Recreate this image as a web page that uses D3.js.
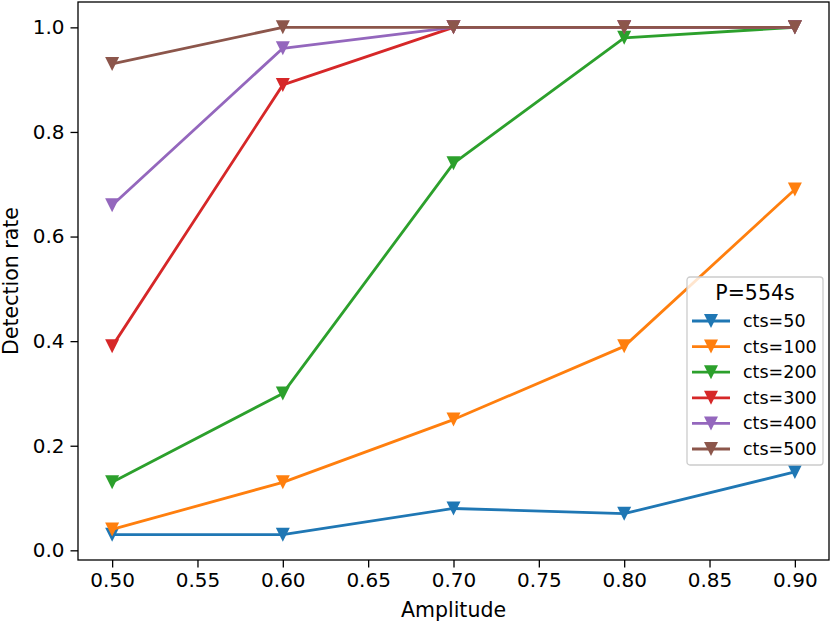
<!DOCTYPE html>
<head>
    <meta charset="utf-8">
    <title>Detection rate vs amplitude</title>
    <style>
        body { margin: 0; background: #fff; }
        text { font-family: "DejaVu Sans", sans-serif; fill: #000; }
    </style>
</head>
<body>

<svg width="831" height="626"></svg>

<script src="https://d3js.org/d3.v7.min.js"></script>

<script>

    // data
    var amplitudes = [0.50, 0.60, 0.70, 0.80, 0.90];
    var seriesNames = ["cts=50", "cts=100", "cts=200", "cts=300", "cts=400", "cts=500"];
    var cts50  = [0.03, 0.03, 0.08, 0.07, 0.15];
    var cts100 = [0.04, 0.13, 0.25, 0.39, 0.69];
    var cts200 = [0.13, 0.30, 0.74, 0.98, 1.00];
    var cts300 = [0.39, 0.89, 1.00, 1.00, 1.00];
    var cts400 = [0.66, 0.96, 1.00, 1.00, 1.00];
    var cts500 = [0.93, 1.00, 1.00, 1.00, 1.00];
    var xTicks = [0.50, 0.55, 0.60, 0.65, 0.70, 0.75, 0.80, 0.85, 0.90];
    var yTicks = [0.0, 0.2, 0.4, 0.6, 0.8, 1.0];
    var legendTitle = "P=554s";

    var allSeries = [cts50, cts100, cts200, cts300, cts400, cts500];
    var colors = ["#1f77b4", "#ff7f0e", "#2ca02c", "#d62728", "#9467bd", "#8c564b"];

    var svg = d3.select("svg"),
        margin = {top: 2, right: 2, bottom: 66, left: 78},
        width = +svg.attr("width") - margin.left - margin.right,
        height = +svg.attr("height") - margin.top - margin.bottom;

    var g = svg.append("g")
        .attr("transform", "translate(" + margin.left + "," + margin.top + ")");

    // matplotlib style 5% padding
    var x = d3.scaleLinear().domain([0.48, 0.92]).range([0, width]);
    var y = d3.scaleLinear().domain([-0.0185, 1.0485]).range([height, 0]);

    var xAxis = g.append("g")
        .attr("transform", "translate(0," + height + ")")
        .call(d3.axisBottom(x).tickValues(xTicks).tickFormat(d3.format(".2f"))
            .tickSize(7.5).tickPadding(5));

    var yAxis = g.append("g")
        .call(d3.axisLeft(y).tickValues(yTicks).tickFormat(d3.format(".1f"))
            .tickSize(7.5).tickPadding(6));

    [xAxis, yAxis].forEach(function(a) {
        a.select(".domain").remove();
        a.selectAll("line").attr("stroke", "#000").attr("stroke-width", 1.3);
        a.selectAll("text").attr("font-size", 20).attr("font-family", "DejaVu Sans").attr("fill", "#000");
    });

    var line = d3.line()
        .x(function(d, i) { return x(amplitudes[i]); })
        .y(function(d) { return y(d); });

    var triPath = "M0,7L-7,-7L7,-7Z";

    allSeries.forEach(function(s, k) {
        var sg = g.append("g");
        sg.append("path")
            .datum(s)
            .attr("fill", "none")
            .attr("stroke", colors[k])
            .attr("stroke-width", 2.8)
            .attr("stroke-linejoin", "round")
            .attr("d", line);
        sg.selectAll("path.m")
            .data(s)
            .enter().append("path")
                .attr("class", "m")
                .attr("d", triPath)
                .attr("fill", colors[k])
                .attr("transform", function(d, i) {
                    return "translate(" + x(amplitudes[i]) + "," + y(d) + ")";
                });
    });

    // frame
    g.append("rect")
        .attr("width", width)
        .attr("height", height)
        .attr("fill", "none")
        .attr("stroke", "#000")
        .attr("stroke-width", 1.3);

    // axis labels
    g.append("text")
        .attr("x", width / 2)
        .attr("y", height + 57)
        .attr("text-anchor", "middle")
        .attr("font-size", 20.5)
        .text("Amplitude");

    g.append("text")
        .attr("transform", "translate(" + (-60) + "," + (height / 2) + ") rotate(-90)")
        .attr("text-anchor", "middle")
        .attr("font-size", 20.5)
        .text("Detection rate");

    // legend
    var lg = svg.append("g").attr("transform", "translate(687,277)");

    lg.append("rect")
        .attr("width", 136)
        .attr("height", 188)
        .attr("rx", 3)
        .attr("fill", "#fff")
        .attr("fill-opacity", 0.8)
        .attr("stroke", "#ccc")
        .attr("stroke-width", 1.3);

    lg.append("text")
        .attr("x", 68)
        .attr("y", 23)
        .attr("text-anchor", "middle")
        .attr("font-size", 20.5)
        .text(legendTitle);

    var item = lg.selectAll("g.item")
        .data(seriesNames)
        .enter().append("g")
            .attr("class", "item")
            .attr("transform", function(d, i) { return "translate(0," + (44 + i * 25.6) + ")"; });

    item.append("line")
        .attr("x1", 5).attr("x2", 43)
        .attr("stroke", function(d, i) { return colors[i]; })
        .attr("stroke-width", 2.8);

    item.append("path")
        .attr("d", triPath)
        .attr("transform", "translate(24,0)")
        .attr("fill", function(d, i) { return colors[i]; });

    item.append("text")
        .attr("x", 56)
        .attr("y", 6)
        .attr("font-size", 17.5)
        .text(function(d) { return d; });

</script>
</body>
